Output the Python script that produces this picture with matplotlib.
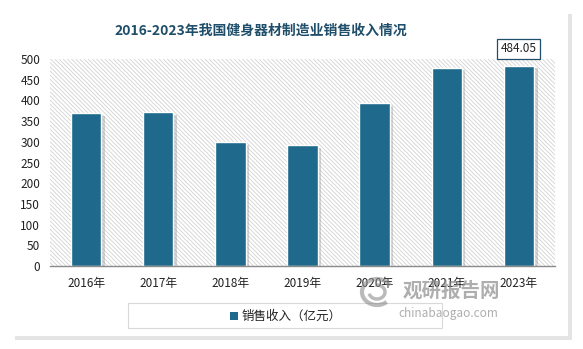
import numpy as np
import matplotlib
matplotlib.use('Agg')
import matplotlib.pyplot as plt
import matplotlib.patheffects as pe
from matplotlib.patches import Rectangle, Arc

plt.rcParams['font.family'] = ['Noto Sans CJK SC', 'DejaVu Sans']
plt.rcParams['hatch.linewidth'] = 0.6
plt.rcParams['hatch.color'] = '#d2d2d2'

# data
years = ['2016年', '2017年', '2018年', '2019年', '2020年', '2021年', '2023年']
sales = [368.6, 372.5, 300.0, 291.4, 394.3, 479.0, 484.05]
label_last = '484.05'
title = '2016-2023年我国健身器材制造业销售收入情况'
series_name = '销售收入（亿元）'

bar_color = '#1f6a8c'
title_color = '#1f4e6a'

fig = plt.figure(figsize=(5.83, 3.49), dpi=100)
W, H = 583, 349

# outer panel with shadow
fig.patches.append(Rectangle((15 / W, 1 - 340 / H), 557 / W, 326 / H, transform=fig.transFigure,
                             facecolor='#e4e4e4', edgecolor='none', zorder=-3))
fig.patches.append(Rectangle((13 / W, 1 - 336 / H), 555 / W, 323 / H, transform=fig.transFigure,
                             facecolor='white', edgecolor='none', zorder=-2))

ax = fig.add_axes([50 / W, 1 - 266 / H, 505 / W, 207 / H])
ax.set_facecolor('none')
ax.set_zorder(2)

x = np.arange(len(years))
ax.add_patch(Rectangle((-0.5, 0), len(years), 500, facecolor='white', edgecolor='#d2d2d2',
                       linewidth=0, hatch='\\' * 8, zorder=0))

bars = ax.bar(x, sales, width=0.42, color=bar_color, edgecolor='white', linewidth=1, zorder=2)
for b in bars:
    b.set_path_effects([pe.SimplePatchShadow(offset=(2.5, -2), shadow_rgbFace='#888888', alpha=0.35),
                        pe.Normal()])

ax.set_xlim(-0.5, len(years) - 0.5)
ax.set_ylim(0, 500)
ax.set_yticks(np.arange(0, 501, 50))
ax.set_xticks(x)
ax.set_xticklabels(years)
ax.tick_params(axis='both', length=0, labelsize=8.5, colors='#222222')
ax.tick_params(axis='y', pad=7)
ax.tick_params(axis='x', pad=8)
for s in ['left', 'right', 'top']:
    ax.spines[s].set_visible(False)
ax.spines['bottom'].set_color('#8a8a8a')
ax.spines['bottom'].set_linewidth(1)

# value label for last bar
ax.annotate(label_last, xy=(x[-1], sales[-1]), xytext=(0, 12), textcoords='offset points',
            ha='center', va='center', fontsize=8.5, color='#222222', annotation_clip=False,
            bbox=dict(boxstyle='square,pad=0.3', facecolor='white', edgecolor=title_color, linewidth=0.9))

fig.text(261 / W, 1 - 31 / H, title, ha='center', va='center', fontsize=10,
         fontweight='bold', color=title_color)

# legend box
fig.patches.append(Rectangle((128 / W, 1 - 328 / H), 314 / W, 25 / H, transform=fig.transFigure,
                             facecolor='white', edgecolor='#d9d9d9', linewidth=0.8, zorder=1))
fig.patches.append(Rectangle((230 / W, 1 - 320 / H), 8 / W, 8 / H, transform=fig.transFigure,
                             facecolor=bar_color, edgecolor='none', zorder=2))
fig.text(242 / W, 1 - 316 / H, series_name, ha='left', va='center', fontsize=9, color='#222222',
         zorder=3)

# watermark
wm = '#8c8c8c'
fig.patches.append(Arc((377 / W, 1 - 292 / H), 30 / W, 26 / H, theta1=40, theta2=300,
                       transform=fig.transFigure, color=wm, linewidth=3, alpha=0.6, zorder=3))
fig.patches.append(Arc((377 / W, 1 - 292 / H), 16 / W, 14 / H, theta1=200, theta2=460,
                       transform=fig.transFigure, color=wm, linewidth=2.5, alpha=0.6, zorder=3))
fig.text(451 / W, 1 - 291 / H, '观研报告网', ha='center', va='center', fontsize=14,
         fontweight='bold', color=wm, alpha=0.7, zorder=3)
fig.text(448 / W, 1 - 314 / H, 'chinabaogao.com', ha='center', va='center', fontsize=8.5,
         color=wm, alpha=0.7, zorder=3)

fig.savefig('out.png', dpi=100)
